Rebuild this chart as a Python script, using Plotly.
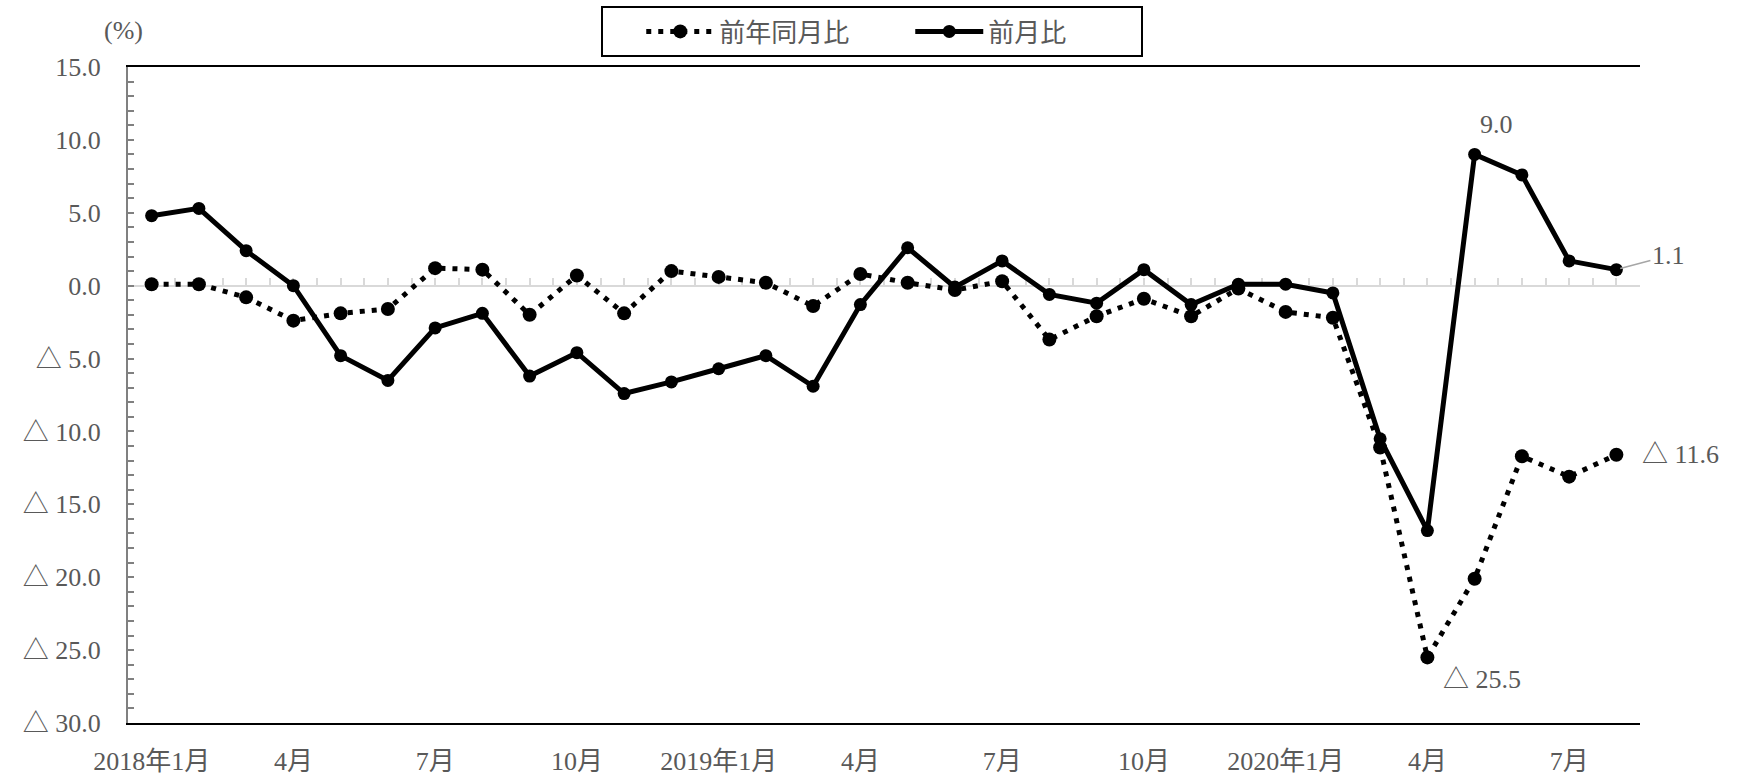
import plotly.graph_objects as go

# ---- data ----
months = [
    "2018-01", "2018-02", "2018-03", "2018-04", "2018-05", "2018-06",
    "2018-07", "2018-08", "2018-09", "2018-10", "2018-11", "2018-12",
    "2019-01", "2019-02", "2019-03", "2019-04", "2019-05", "2019-06",
    "2019-07", "2019-08", "2019-09", "2019-10", "2019-11", "2019-12",
    "2020-01", "2020-02", "2020-03", "2020-04", "2020-05", "2020-06",
    "2020-07", "2020-08",
]
yoy = [0.1, 0.1, -0.8, -2.4, -1.9, -1.6, 1.2, 1.1, -2.0, 0.7, -1.9, 1.0,
       0.6, 0.2, -1.4, 0.8, 0.2, -0.3, 0.3, -3.7, -2.1, -0.9, -2.1, -0.2,
       -1.8, -2.2, -11.1, -25.5, -20.1, -11.7, -13.1, -11.6]
mom = [4.8, 5.3, 2.4, 0.0, -4.8, -6.5, -2.9, -1.9, -6.2, -4.6, -7.4, -6.6,
       -5.7, -4.8, -6.9, -1.3, 2.6, -0.1, 1.7, -0.6, -1.2, 1.1, -1.3, 0.1,
       0.1, -0.5, -10.5, -16.8, 9.0, 7.6, 1.7, 1.1]
x_tick_months = ["2018-01", "2018-04", "2018-07", "2018-10", "2019-01", "2019-04",
                 "2019-07", "2019-10", "2020-01", "2020-04", "2020-07"]
x_tick_labels = ["2018年1月", "4月", "7月", "10月", "2019年1月", "4月", "7月",
                 "10月", "2020年1月", "4月", "7月"]
y_ticks = [15, 10, 5, 0, -5, -10, -15, -20, -25, -30]
series_names = ["前年同月比", "前月比"]


def fmt(v):
    return f"{v:.1f}" if v >= 0 else f"△ {abs(v):.1f}"


FONT = "Liberation Serif, Noto Sans CJK JP, serif"
GRAY_TXT = "#595959"
FS = 26
n = len(months)

fig = go.Figure()
# helper trace so that the zero-line axis (x2) is drawn; it has no visible points
fig.add_trace(go.Scatter(x=[0], y=[None], xaxis="x2", yaxis="y", mode="lines",
                         showlegend=False, hoverinfo="skip"))
fig.add_trace(go.Scatter(
    x=months, y=yoy, name=series_names[0], mode="lines+markers",
    line=dict(color="black", width=5, dash="5px,7px"),
    marker=dict(size=14, color="black"),
))
fig.add_trace(go.Scatter(
    x=months, y=mom, name=series_names[1], mode="lines+markers",
    line=dict(color="black", width=5),
    marker=dict(size=13, color="black"),
))

annotations = [
    dict(text="(%)", xref="paper", yref="paper", x=-0.017, y=1.056,
         xanchor="left", yanchor="middle", showarrow=False),
    dict(text=fmt(mom[28]), x=months[28], y=mom[28], xref="x", yref="y",
         showarrow=False, xshift=22, yshift=30),
    dict(text=fmt(mom[-1]), x=months[-1], y=mom[-1], xref="x", yref="y",
         showarrow=True, ax=52, ay=-14, arrowhead=0, arrowwidth=1.5,
         arrowcolor="#a6a6a6", standoff=4),
    dict(text=fmt(yoy[27]), x=months[27], y=yoy[27], xref="x", yref="y",
         showarrow=False, xanchor="left", xshift=14, yshift=-22),
    dict(text=fmt(yoy[-1]), x=months[-1], y=yoy[-1], xref="x", yref="y",
         showarrow=False, xanchor="left", xshift=24, yshift=0),
]

fig.update_layout(
    width=1741, height=784,
    margin=dict(l=128, r=101, t=67, b=61, autoexpand=False),
    paper_bgcolor="white", plot_bgcolor="white",
    font=dict(family=FONT, size=FS, color=GRAY_TXT),
    showlegend=True,
    legend=dict(orientation="h", x=0.313, xanchor="left", y=1.093, yanchor="top",
                bordercolor="black", borderwidth=2, bgcolor="white",
                font=dict(family=FONT, size=FS, color=GRAY_TXT),
                itemwidth=68, entrywidth=148, indentation=38, tracegroupgap=0),
    xaxis=dict(
        type="category", categoryorder="array", categoryarray=months,
        range=[-0.5, n - 0.5],
        showline=True, linecolor="black", linewidth=2, mirror=True,
        ticks="", tickvals=x_tick_months, ticktext=x_tick_labels,
        showgrid=False, zeroline=False, ticklabelstandoff=14,
        tickfont=dict(family=FONT, size=FS, color=GRAY_TXT),
    ),
    xaxis2=dict(
        overlaying="x", anchor="free", position=30 / 45, type="linear",
        range=[-0.5, n - 0.5], tick0=0, dtick=0.5,
        ticks="inside", ticklen=7, tickwidth=2, tickcolor="#d9d9d9",
        showline=True, linecolor="#d9d9d9", linewidth=2,
        showticklabels=False, showgrid=False, zeroline=False,
        layer="below traces",
    ),
    yaxis=dict(
        range=[-30, 15], tickvals=y_ticks, ticktext=[fmt(v) for v in y_ticks],
        ticks="inside", ticklen=6, tickwidth=2, tickcolor="#808080",
        showline=True, linecolor="#808080", linewidth=2,
        minor=dict(dtick=1, ticks="inside", ticklen=6, tickwidth=2,
                   tickcolor="#808080"),
        showgrid=False, zeroline=False, ticklabelstandoff=20,
        tickfont=dict(family=FONT, size=FS, color=GRAY_TXT),
    ),
    yaxis2=dict(
        overlaying="y", side="right", anchor="x", range=[-30, 15],
        showline=True, linecolor="black", linewidth=2,
        showticklabels=False, ticks="", showgrid=False, zeroline=False,
    ),
    annotations=annotations,
)

fig.write_html("out.html", config={"displayModeBar": False},
               post_script="document.body.style.margin='0';")
